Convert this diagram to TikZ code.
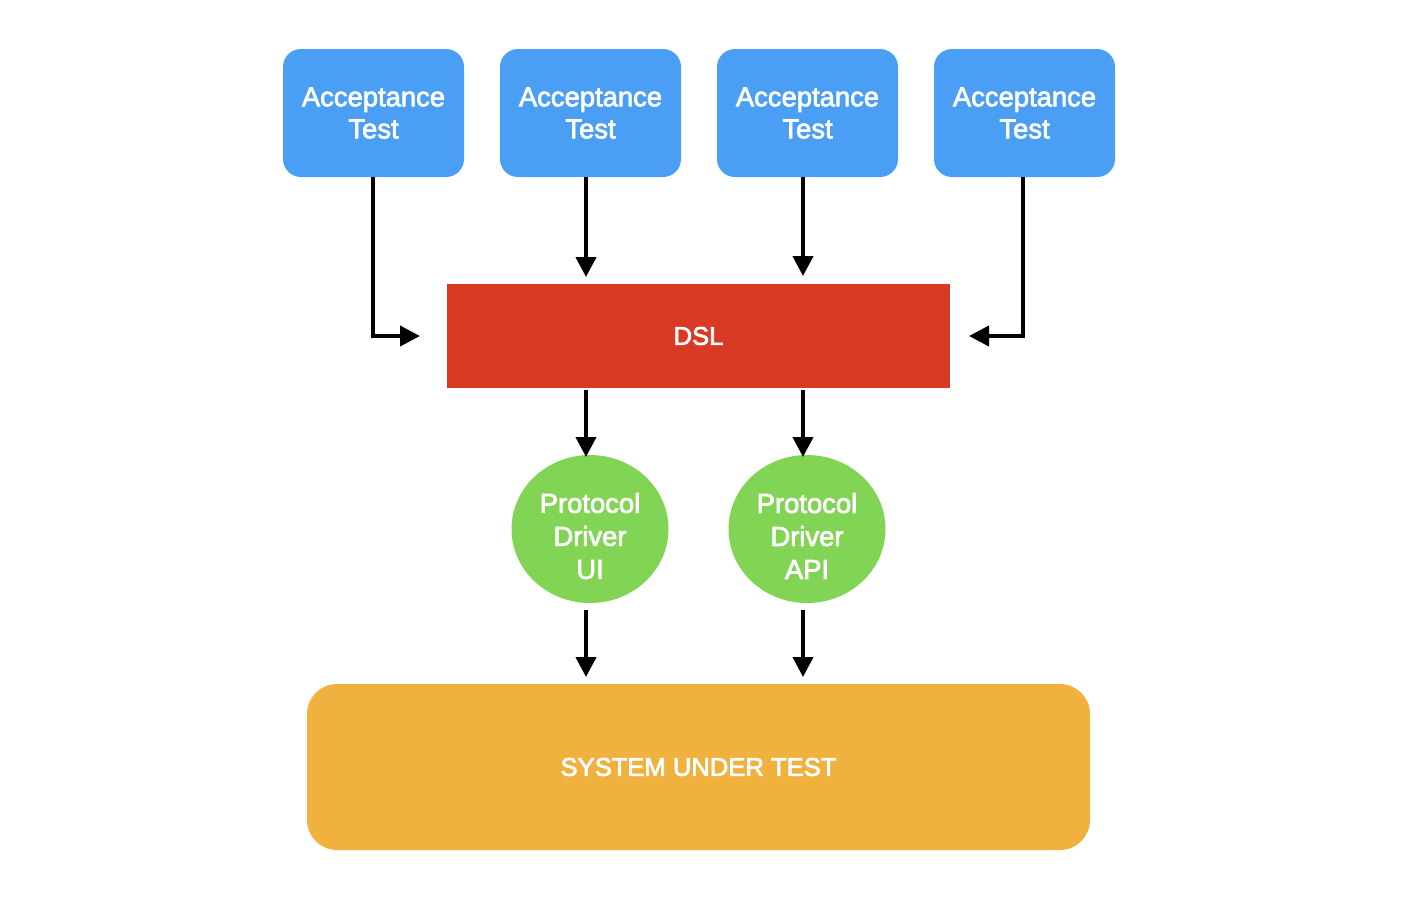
\documentclass[tikz,border=0pt]{standalone}
\usepackage{fontspec}
\setmainfont{Liberation Sans}
\newcommand{\medfont}{\special{pdf:code 2 Tr 0.35 w}}
\usetikzlibrary{arrows.meta,shapes.geometric}
\definecolor{testblue}{HTML}{4A9FF5}
\definecolor{dslred}{HTML}{D93A26}
\definecolor{drvgreen}{HTML}{82D455}
\definecolor{sutorange}{HTML}{F1B13F}
\tikzset{
  testbox/.style={draw=none,fill=testblue,rounded corners=9pt,minimum width=90.5pt,minimum height=64pt,inner sep=0pt,text=white,font=\medfont\fontsize{13.7}{16}\selectfont,align=center},
  drv/.style={ellipse,draw=none,fill=drvgreen,minimum width=78.5pt,minimum height=74pt,inner sep=0pt},
  drvtext/.style={text=white,font=\medfont\fontsize{13.7}{16.5}\selectfont,align=center,inner sep=0pt},
  bigtext/.style={text=white,font=\medfont\fontsize{12.8}{15}\selectfont,inner sep=0pt},
  conn/.style={line width=2pt,-{Triangle[length=10pt,width=10pt]}}
}
\begin{document}
\begin{tikzpicture}[x=0.5pt,y=-0.5pt]
\useasboundingbox (0,0) rectangle (1424,902);
\node[testbox] (t1) at (373.5,113) {Acceptance\\Test};
\node[testbox] (t2) at (590.5,113) {Acceptance\\Test};
\node[testbox] (t3) at (807.5,113) {Acceptance\\Test};
\node[testbox] (t4) at (1024.5,113) {Acceptance\\Test};
\node[bigtext,fill=dslred,minimum width=251.5pt,minimum height=52pt] (dsl) at (698.5,336) {DSL};
\node[drv,label={[drvtext,yshift=-3.5pt]center:Protocol\\Driver\\UI}] (d1) at (590,529) {};
\node[drv,label={[drvtext,yshift=-3.5pt]center:Protocol\\Driver\\API}] (d2) at (807,529) {};
\node[bigtext,fill=sutorange,rounded corners=15pt,minimum width=391.5pt,minimum height=83pt] (sut) at (698.5,767) {SYSTEM UNDER TEST};
\coordinate (l1) at (420,336);
\coordinate (l4) at (969,336);
\coordinate (a2) at (586,277);
\coordinate (a3) at (803,276);
\coordinate (b1) at (586,457);
\coordinate (b2) at (803,457);
\coordinate (c1) at (586,610);
\coordinate (c2) at (803,610);
\coordinate (e1) at (586,677);
\coordinate (e2) at (803,677);
\draw[conn] (t1.south -| 373,0) |- (l1);
\draw[conn] (t4.south -| 1023,0) |- (l4);
\draw[conn] (t2.south -| a2) -- (a2);
\draw[conn] (t3.south -| a3) -- (a3);
\draw[conn] ([yshift=-1pt]dsl.south -| b1) -- (b1);
\draw[conn] ([yshift=-1pt]dsl.south -| b2) -- (b2);
\draw[conn] (c1) -- (e1);
\draw[conn] (c2) -- (e2);
\end{tikzpicture}
\end{document}
